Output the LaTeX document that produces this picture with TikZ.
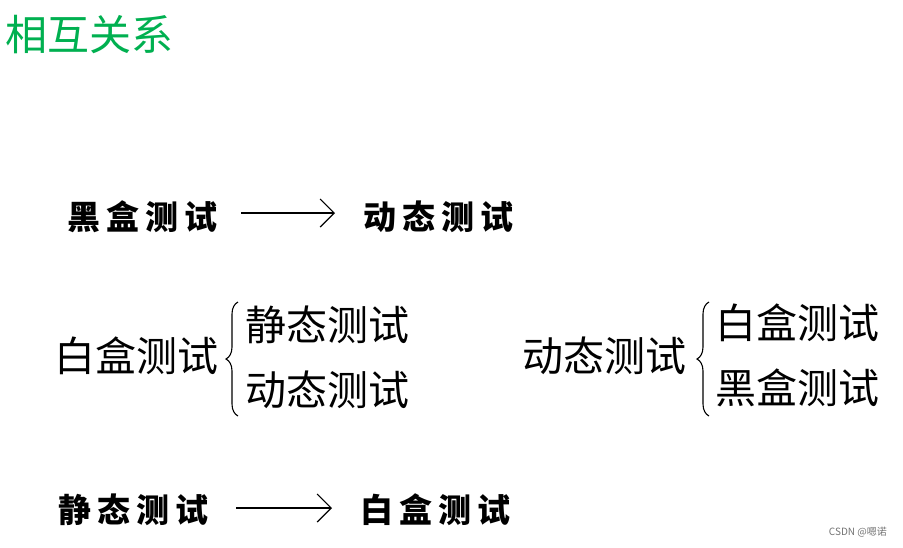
\documentclass[tikz,border=0pt]{standalone}
\usepackage{fontspec}
\newfontfamily\cjk{Noto Sans CJK SC}
\usetikzlibrary{arrows.meta,decorations.pathreplacing}
\definecolor{titlegreen}{RGB}{0,176,80}
\newcommand\gapx{\hspace{6pt}}
\tikzset{
  x=1pt, y=-1pt,
  txt/.style={inner sep=0pt, anchor=west, font=\cjk\fontsize{41}{41}\selectfont},
  brush/.style={inner sep=0pt, anchor=west, font=\cjk\bfseries\fontsize{33}{33}\selectfont},
  longarrow/.style={line width=1.2pt, -{Straight Barb[length=14pt,width=28pt,line width=1.2pt]}},
  bigbrace/.style={line width=1.1pt, decorate, decoration={brace, amplitude=12pt}},
}
\begin{document}
\begin{tikzpicture}
\useasboundingbox[fill=white] (0,0) rectangle (903,547);
% title
\node[inner sep=0pt, anchor=west, text=titlegreen, font=\cjk\fontsize{42}{42}\selectfont] (title) at (5,35) {相互关系};
% row 1
\node[brush] (bh1) at (67,217) {黑\gapx 盒\gapx 测\gapx 试};
\node[brush] (dt1) at (363,217) {动\gapx 态\gapx 测\gapx 试};
\coordinate (a1s) at (241,213);
\coordinate (a1e) at (335,213);
\draw[longarrow] (a1s) -- (a1e);
% row 2 left
\node[txt] (wb2) at (54,356) {白盒测试};
\node[txt] (jt2) at (245,325) {静态测试};
\node[txt] (dt2) at (245,390) {动态测试};
\coordinate (b1s) at (238,416);
\coordinate (b1e) at (238,302);
\draw[bigbrace] (b1s) -- (b1e);
% row 2 right
\node[txt] (dt3) at (522,356) {动态测试};
\node[txt] (wb3) at (715,323) {白盒测试};
\node[txt] (bh3) at (715,388) {黑盒测试};
\coordinate (b2s) at (709,416);
\coordinate (b2e) at (709,302);
\draw[bigbrace] (b2s) -- (b2e);
% row 4
\node[brush] (jt4) at (58,510) {静\gapx 态\gapx 测\gapx 试};
\node[brush] (wb4) at (360,510) {白\gapx 盒\gapx 测\gapx 试};
\coordinate (a2s) at (236,508);
\coordinate (a2e) at (332,508);
\draw[longarrow] (a2s) -- (a2e);
% watermark
\node[inner sep=0pt, anchor=east, text=black!55, font=\cjk\fontsize{10}{10}\selectfont] (wm) at (887,532) {CSDN @嗯诺};
\end{tikzpicture}
\end{document}
